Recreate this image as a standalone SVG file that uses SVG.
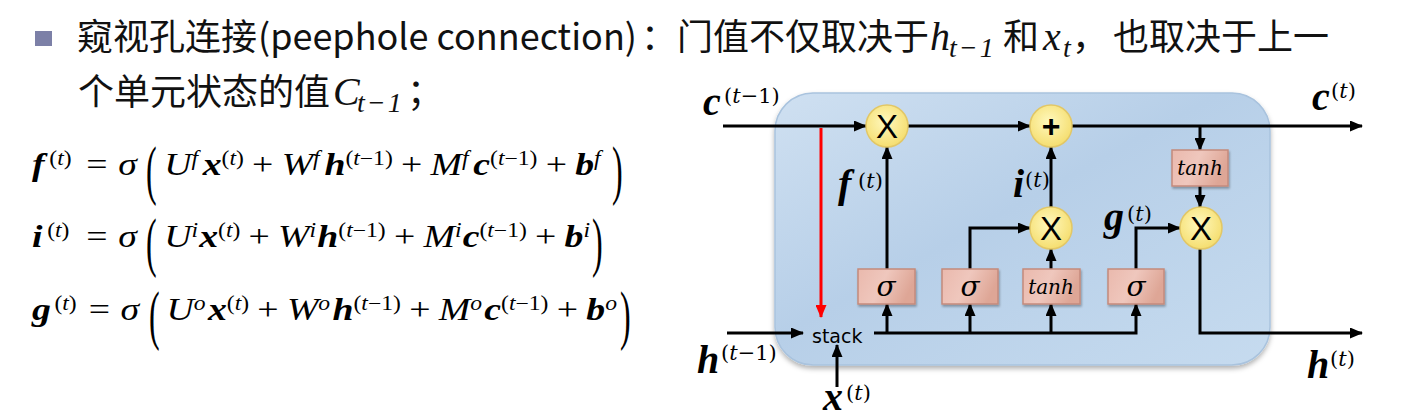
<svg xmlns="http://www.w3.org/2000/svg" width="1415" height="417" viewBox="0 0 1415 417">
<defs>
<style>
.cn{font-family:"Noto Sans CJK SC","Noto Sans",sans-serif;font-size:36px;fill:#111}
.mi{font-family:"Liberation Serif",serif;font-style:italic;fill:#111}
.eq{font-family:"Liberation Serif",serif;font-size:32px;fill:#000}
.bi{font-weight:bold;font-style:italic}
.it{font-style:italic}
.s{font-size:20px}
.lb{font-family:"Liberation Serif",serif;font-weight:bold;font-style:italic;font-size:40px;fill:#000}
.ls{font-family:"DejaVu Serif",serif;font-size:21px;fill:#000}
.sig{font-family:"DejaVu Serif",serif;font-style:italic;font-size:28px;fill:#000;text-anchor:middle}
.tanh{font-family:"DejaVu Serif",serif;font-style:italic;font-size:20px;fill:#000;text-anchor:middle}
.op{font-family:"Liberation Sans",sans-serif;font-size:33px;fill:#000;text-anchor:middle}
.opb{font-family:"Liberation Sans",sans-serif;font-weight:bold;font-size:32px;fill:#000;text-anchor:middle}
.circ{fill:url(#gy);stroke:#e2c766;stroke-width:1.5}
.box{fill:url(#gb);stroke:#c48a7c;stroke-width:1.5;filter:url(#sh)}
.ln{fill:none;stroke:#000;stroke-width:3;stroke-linejoin:miter}
.red{fill:none;stroke:#ff0000;stroke-width:3}
</style>
<radialGradient id="gy" cx="45%" cy="40%" r="60%"><stop offset="0" stop-color="#fff8bd"/><stop offset="1" stop-color="#f5de70"/></radialGradient>
<linearGradient id="gb" x1="0" y1="0" x2="1" y2="0.3"><stop offset="0" stop-color="#eab9ad"/><stop offset="0.5" stop-color="#efc7bd"/><stop offset="1" stop-color="#dea696"/></linearGradient>
<linearGradient id="gc" x1="0" y1="0" x2="1" y2="1"><stop offset="0" stop-color="#cfe0f1"/><stop offset="0.45" stop-color="#b7cfe8"/><stop offset="1" stop-color="#c6dbef"/></linearGradient>
<filter id="sh" x="-20%" y="-20%" width="140%" height="150%"><feDropShadow dx="1" dy="2" stdDeviation="1.2" flood-color="#000" flood-opacity="0.3"/></filter>
<filter id="shc" x="-10%" y="-10%" width="120%" height="125%"><feDropShadow dx="0" dy="3" stdDeviation="2.5" flood-color="#000" flood-opacity="0.3"/></filter>
<marker id="ah" viewBox="0 0 13 11" refX="12" refY="5.5" markerWidth="13" markerHeight="11" markerUnits="userSpaceOnUse" orient="auto"><path d="M0,0 L13,5.5 L0,11 z" fill="#000"/></marker>
<marker id="ahr" viewBox="0 0 13 11" refX="12" refY="5.5" markerWidth="13" markerHeight="11" markerUnits="userSpaceOnUse" orient="auto"><path d="M0,0 L13,5.5 L0,11 z" fill="#ff0000"/></marker>
</defs>
<rect width="1415" height="417" fill="#fff"/>

<g id="text">
<rect x="35" y="31" width="17" height="15" fill="#7c80a7"/>
<text class="cn" x="77" y="50">窥视孔连接</text>
<text class="cn" x="258" y="50" textLength="379" lengthAdjust="spacingAndGlyphs">(peephole connection)</text>
<text class="cn" x="641" y="50">：</text>
<text class="cn" x="677" y="50">门值不仅取决于</text>
<text class="mi" x="930" y="50" font-size="40">h</text>
<text class="mi" x="949" y="57" font-size="28" letter-spacing="2">t−1</text>
<text class="cn" x="1003" y="50">和</text>
<text class="mi" x="1043" y="50" font-size="40">x</text>
<text class="mi" x="1063" y="57" font-size="28">t</text>
<text class="cn" x="1072" y="50">，</text>
<text class="cn" x="1113" y="50">也取决于上一</text>
<text class="cn" x="78" y="105">个单元状态的值</text>
<text class="mi" x="333" y="105" font-size="40">C</text>
<text class="mi" x="357" y="112" font-size="28" letter-spacing="2">t−1</text>
<text class="cn" x="407" y="105">；</text>
</g>

<g id="equations">
<g transform="translate(32,0) scale(1.18,1)">
<text class="eq" y="175"><tspan class="bi">f</tspan><tspan class="s" dx="4" dy="-10">(<tspan class="it">t</tspan>)</tspan><tspan x="46" dy="10">=</tspan><tspan x="73" class="it">σ</tspan></text>
<text class="eq" x="112" y="175"><tspan class="it">U</tspan><tspan class="s it" dy="-10">f</tspan><tspan class="bi" dy="10" dx="4">x</tspan><tspan class="s" dy="-10">(<tspan class="it">t</tspan>)</tspan><tspan dy="10" dx="7">+</tspan><tspan class="it" dx="7">W</tspan><tspan class="s it" dy="-10">f</tspan><tspan class="bi" dy="10" dx="4">h</tspan><tspan class="s" dy="-10">(<tspan class="it">t</tspan>−1)</tspan><tspan dy="10" dx="7">+</tspan><tspan class="it" dx="7">M</tspan><tspan class="s it" dy="-10">f</tspan><tspan class="bi" dy="10" dx="4">c</tspan><tspan class="s" dy="-10">(<tspan class="it">t</tspan>−1)</tspan><tspan dy="10" dx="7">+</tspan><tspan class="bi" dx="7">b</tspan><tspan class="s it" dy="-10">f</tspan></text>
<text class="eq" y="247"><tspan class="bi">i</tspan><tspan class="s" dx="4" dy="-10">(<tspan class="it">t</tspan>)</tspan><tspan x="46" dy="10">=</tspan><tspan x="73" class="it">σ</tspan></text>
<text class="eq" x="112" y="247"><tspan class="it">U</tspan><tspan class="s it" dy="-10">i</tspan><tspan class="bi" dy="10" dx="1">x</tspan><tspan class="s" dy="-10">(<tspan class="it">t</tspan>)</tspan><tspan dy="10" dx="7">+</tspan><tspan class="it" dx="7">W</tspan><tspan class="s it" dy="-10">i</tspan><tspan class="bi" dy="10" dx="1">h</tspan><tspan class="s" dy="-10">(<tspan class="it">t</tspan>−1)</tspan><tspan dy="10" dx="7">+</tspan><tspan class="it" dx="7">M</tspan><tspan class="s it" dy="-10">i</tspan><tspan class="bi" dy="10" dx="1">c</tspan><tspan class="s" dy="-10">(<tspan class="it">t</tspan>−1)</tspan><tspan dy="10" dx="7">+</tspan><tspan class="bi" dx="7">b</tspan><tspan class="s it" dy="-10">i</tspan></text>
<text class="eq" y="320"><tspan class="bi">g</tspan><tspan class="s" dx="3" dy="-10">(<tspan class="it">t</tspan>)</tspan><tspan x="48" dy="10">=</tspan><tspan x="75" class="it">σ</tspan></text>
<text class="eq" x="114" y="320"><tspan class="it">U</tspan><tspan class="s it" dy="-10">o</tspan><tspan class="bi" dy="10" dx="2">x</tspan><tspan class="s" dy="-10">(<tspan class="it">t</tspan>)</tspan><tspan dy="10" dx="7">+</tspan><tspan class="it" dx="7">W</tspan><tspan class="s it" dy="-10">o</tspan><tspan class="bi" dy="10" dx="2">h</tspan><tspan class="s" dy="-10">(<tspan class="it">t</tspan>−1)</tspan><tspan dy="10" dx="7">+</tspan><tspan class="it" dx="7">M</tspan><tspan class="s it" dy="-10">o</tspan><tspan class="bi" dy="10" dx="2">c</tspan><tspan class="s" dy="-10">(<tspan class="it">t</tspan>−1)</tspan><tspan dy="10" dx="7">+</tspan><tspan class="bi" dx="7">b</tspan><tspan class="s it" dy="-10">o</tspan></text>
</g>
<text class="eq" transform="translate(146,192) scale(1,2.05)">(</text>
<text class="eq" transform="translate(612,192) scale(1,2.05)">)</text>
<text class="eq" transform="translate(146,264) scale(1,2.05)">(</text>
<text class="eq" transform="translate(592,264) scale(1,2.05)">)</text>
<text class="eq" transform="translate(149,337) scale(1,2.05)">(</text>
<text class="eq" transform="translate(620,337) scale(1,2.05)">)</text>
</g>

<g id="cell">
<rect x="775" y="93" width="495" height="272" rx="38" ry="38" fill="url(#gc)" stroke="#a9c3de" stroke-width="1.5" filter="url(#shc)"/>
</g>

<g id="connectors">
<path class="ln" d="M723,126 H866" marker-end="url(#ah)"/>
<path class="ln" d="M908,126 H1030" marker-end="url(#ah)"/>
<path class="ln" d="M1072,126 H1362" marker-end="url(#ah)"/>
<path class="ln" d="M1200,126 V150" marker-end="url(#ah)"/>
<path class="ln" d="M1200,186 V207" marker-end="url(#ah)"/>
<path class="ln" d="M1200,249 V333 H1362" marker-end="url(#ah)"/>
<path class="ln" d="M887,269 V147" marker-end="url(#ah)"/>
<path class="ln" d="M970,269 V228 H1030" marker-end="url(#ah)"/>
<path class="ln" d="M1051,269 V249" marker-end="url(#ah)"/>
<path class="ln" d="M1051,207 V147" marker-end="url(#ah)"/>
<path class="ln" d="M1136,269 V228 H1180" marker-end="url(#ah)"/>
<path class="ln" d="M874,333 H1136 V304" marker-end="url(#ah)"/>
<path class="ln" d="M887,333 V304" marker-end="url(#ah)"/>
<path class="ln" d="M970,333 V304" marker-end="url(#ah)"/>
<path class="ln" d="M1051,333 V304" marker-end="url(#ah)"/>
<path class="ln" d="M727,333 H803" marker-end="url(#ah)"/>
<path class="ln" d="M837,387 V345" marker-end="url(#ah)"/>
<path class="red" d="M821,128 V317" marker-end="url(#ahr)"/>
</g>

<g id="node-forget-mul"><circle class="circ" cx="887" cy="126" r="21"/><text class="op" x="887" y="138">X</text></g>
<g id="node-add"><circle class="circ" cx="1051" cy="126" r="21"/><text class="opb" x="1051" y="137">+</text></g>
<g id="node-input-mul"><circle class="circ" cx="1051" cy="228" r="21"/><text class="op" x="1051" y="240">X</text></g>
<g id="node-output-mul"><circle class="circ" cx="1201" cy="228" r="21"/><text class="op" x="1201" y="240">X</text></g>

<g id="node-sigma-f"><rect class="box" x="858" y="269" width="57" height="35"/><text class="sig" x="886" y="296">σ</text></g>
<g id="node-sigma-i"><rect class="box" x="942" y="269" width="56" height="35"/><text class="sig" x="970" y="296">σ</text></g>
<g id="node-tanh-g"><rect class="box" x="1023" y="269" width="57" height="35"/><text class="tanh" x="1051" y="294">tanh</text></g>
<g id="node-sigma-o"><rect class="box" x="1108" y="269" width="56" height="35"/><text class="sig" x="1136" y="296">σ</text></g>
<g id="node-tanh-c"><rect class="box" x="1172" y="150" width="56" height="36"/><text class="tanh" x="1200" y="175">tanh</text></g>
<g id="node-stack"><text x="812" y="343" font-family="DejaVu Sans, sans-serif" font-size="19" fill="#000">stack</text></g>

<g id="labels">
<text class="lb" x="703" y="115">c</text><text class="ls" x="724" y="103">(<tspan class="it">t</tspan>−1)</text>
<text class="lb" x="1312" y="110">c</text><text class="ls" x="1331" y="98">(<tspan class="it">t</tspan>)</text>
<text class="lb" x="697" y="373">h</text><text class="ls" x="721" y="360">(<tspan class="it">t</tspan>−1)</text>
<text class="lb" x="1307" y="378">h</text><text class="ls" x="1330" y="366">(<tspan class="it">t</tspan>)</text>
<text class="lb" x="823" y="410">x</text><text class="ls" x="846" y="400">(<tspan class="it">t</tspan>)</text>
<text class="lb" x="838" y="197">f</text><text class="ls" x="858" y="188">(<tspan class="it">t</tspan>)</text>
<text class="lb" x="1013" y="197">i</text><text class="ls" x="1025" y="187">(<tspan class="it">t</tspan>)</text>
<text class="lb" x="1104" y="230">g</text><text class="ls" x="1127" y="221">(<tspan class="it">t</tspan>)</text>
</g>
</svg>
